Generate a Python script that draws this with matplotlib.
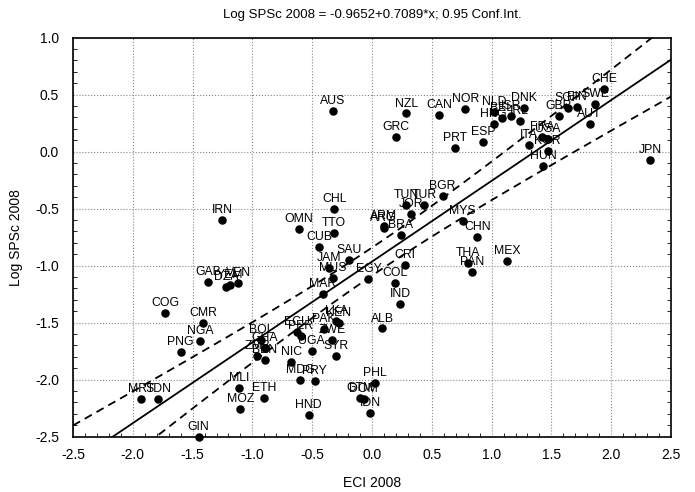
import numpy as np
import matplotlib
matplotlib.use('Agg')
import matplotlib.pyplot as plt
from matplotlib.ticker import MultipleLocator

plt.rcParams['font.family'] = ['Liberation Sans', 'DejaVu Sans']

codes = ['AUS', 'IRN', 'CHL', 'OMN', 'TTO', 'CUB', 'SAU', 'JAM', 'MUS', 'EGY',
         'MAR', 'GAB', 'DZA', 'YEM', 'VEN', 'COG', 'CMR', 'NGA', 'PNG', 'MRT',
         'SDN', 'MLI', 'MOZ', 'ETH', 'HND', 'GIN', 'MDG', 'PRY', 'NIC', 'UGA',
         'SYR', 'ZWE', 'PAK', 'KEN', 'LKA', 'ECU', 'PER', 'BOL', 'GHA', 'ZMB',
         'BEN', 'NZL', 'GRC', 'CAN', 'NOR', 'PRT', 'ESP', 'NLD', 'HKG', 'BEL',
         'ISR', 'IRL', 'DNK', 'GBR', 'SGP', 'FIN', 'SWE', 'AUT', 'CHE', 'ITA',
         'FRA', 'USA', 'KOR', 'HUN', 'JPN', 'BGR', 'TUN', 'TUR', 'JOR', 'ARG',
         'ARM', 'BRA', 'CRI', 'COL', 'IND', 'MYS', 'CHN', 'THA', 'PAN', 'MEX',
         'ALB', 'PHL', 'GTM', 'DOM', 'IDN']

eci = [-0.33, -1.25, -0.315, -0.61, -0.315, -0.44, -0.19, -0.36, -0.33, -0.03,
       -0.41, -1.37, -1.22, -1.19, -1.12, -1.73, -1.41, -1.44, -1.60, -1.93,
       -1.79, -1.11, -1.10, -0.905, -0.53, -1.45, -0.60, -0.48, -0.675, -0.505,
       -0.305, -0.335, -0.40, -0.28, -0.30, -0.63, -0.595, -0.93, -0.895, -0.96,
       -0.895, 0.287, 0.197, 0.561, 0.78, 0.693, 0.931, 1.02, 1.017, 1.086,
       1.161, 1.234, 1.273, 1.56, 1.637, 1.71, 1.864, 1.82, 1.94, 1.31,
       1.42, 1.472, 1.469, 1.433, 2.326, 0.59, 0.287, 0.435, 0.324, 0.097,
       0.10, 0.24, 0.273, 0.189, 0.237, 0.758, 0.881, 0.805, 0.834, 1.13,
       0.086, 0.027, -0.10, -0.07, -0.015]

spsc = [0.36, -0.60, -0.50, -0.68, -0.71, -0.84, -0.95, -1.02, -1.11, -1.115,
        -1.25, -1.14, -1.19, -1.17, -1.15, -1.42, -1.50, -1.66, -1.76, -2.17,
        -2.17, -2.07, -2.26, -2.16, -2.31, -2.50, -2.00, -2.01, -1.85, -1.75,
        -1.79, -1.655, -1.56, -1.50, -1.49, -1.58, -1.62, -1.65, -1.72, -1.79,
        -1.83, 0.335, 0.126, 0.323, 0.376, 0.032, 0.085, 0.35, 0.243, 0.296,
        0.317, 0.267, 0.385, 0.311, 0.385, 0.393, 0.42, 0.246, 0.546, 0.062,
        0.13, 0.112, 0.003, -0.123, -0.073, -0.39, -0.467, -0.47, -0.55, -0.67,
        -0.65, -0.73, -0.995, -1.156, -1.34, -0.605, -0.745, -0.974, -1.054, -0.96,
        -1.552, -2.03, -2.16, -2.17, -2.29]

b0, b1 = -0.9652, 0.7089

x = np.array(eci)
y = np.array(spsc)

fig = plt.figure(figsize=(6.95, 4.92), dpi=100)
ax = fig.add_axes([0.105, 0.1128, 0.8605, 0.8106])

# regression line and 95% confidence band
xs = np.linspace(-2.5, 2.5, 300)
yhat = b0 + b1 * xs
n = len(x)
resid = y - (b0 + b1 * x)
s = np.sqrt(np.sum(resid ** 2) / (n - 2))
sxx = np.sum((x - x.mean()) ** 2)
half = 1.99 * s * np.sqrt(1.0 / n + (xs - x.mean()) ** 2 / sxx)
ax.plot(xs, yhat, color='black', lw=1.3, zorder=3)
ax.plot(xs, yhat + half, color='black', lw=1.3, linestyle=(0, (4.5, 3)), zorder=3)
ax.plot(xs, yhat - half, color='black', lw=1.3, linestyle=(0, (4.5, 3)), zorder=3)

ax.scatter(x, y, s=26, color='black', zorder=4, clip_on=False)
for c, xi, yi in zip(codes, eci, spsc):
    ax.annotate(c, (xi, yi), xytext=(0, 5), textcoords='offset points',
                ha='center', va='baseline', fontsize=8.8, zorder=5)

ax.set_xlim(-2.5, 2.5)
ax.set_ylim(-2.5, 1.0)
ax.xaxis.set_major_locator(MultipleLocator(0.5))
ax.yaxis.set_major_locator(MultipleLocator(0.5))
ax.xaxis.set_minor_locator(MultipleLocator(0.1))
ax.yaxis.set_minor_locator(MultipleLocator(0.1))
ax.xaxis.set_major_formatter(matplotlib.ticker.FormatStrFormatter('%.1f'))
ax.yaxis.set_major_formatter(matplotlib.ticker.FormatStrFormatter('%.1f'))
ax.tick_params(which='both', direction='in', top=False, right=True, labelsize=10)
ax.tick_params(which='major', length=0, pad=10)
ax.tick_params(axis='x', which='major', pad=8)
ax.tick_params(which='minor', length=3)
ax.grid(True, which='major', linestyle=':', color='#888888', linewidth=0.8)
for sp in ax.spines.values():
    sp.set_linewidth(1.2)

ax.set_title('Log SPSc 2008 = -0.9652+0.7089*x; 0.95 Conf.Int.', fontsize=9.5, pad=14)
ax.set_xlabel('ECI 2008', fontsize=10, labelpad=10)
ax.set_ylabel('Log SPSc 2008', fontsize=10, labelpad=9)

fig.savefig('out.png', dpi=100)
